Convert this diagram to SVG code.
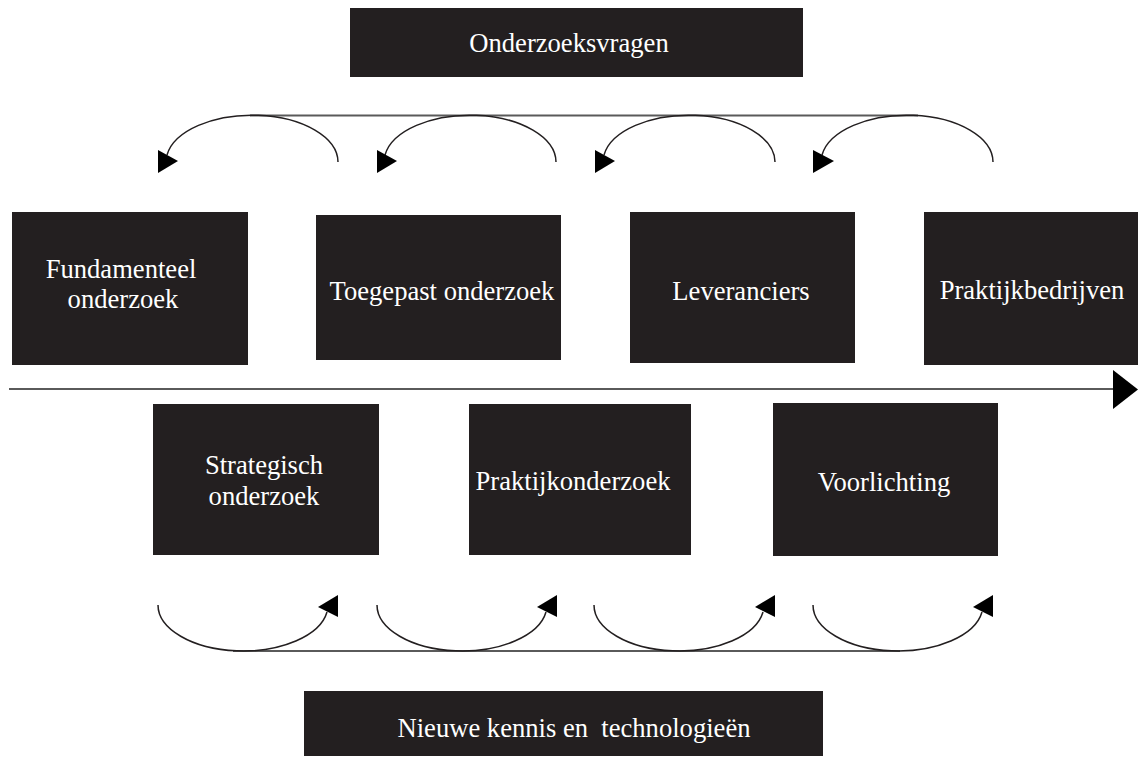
<svg xmlns="http://www.w3.org/2000/svg" width="1138" height="757" viewBox="0 0 1138 757">
  <style>
    .box { fill: #231f20; }
    .lbl { fill: #ffffff; font-family: "Liberation Serif", "Times New Roman", serif; font-size: 26.6px; text-anchor: middle; white-space: pre; }
    .arc { fill: none; stroke: #231f20; stroke-width: 1.5; }
    .rail { fill: none; stroke: #5a5a5a; stroke-width: 1.8; }
    .head { fill: #000000; }
  </style>
  <rect width="1138" height="757" fill="#ffffff"/>

  <!-- connectors -->
  <g id="connectors">
    <!-- main time axis -->
    <line class="rail" x1="9" y1="389" x2="1114" y2="389"/>
    <polygon class="head" points="1113,370 1138,389.5 1113,409"/>

    <!-- feedback loops above the axis -->
    <line class="rail" x1="250" y1="115.5" x2="918" y2="115.5"/>
    <path class="arc" d="M338,162 A86,47 0 0 0 167,155"/>
    <path class="arc" d="M556,162 A86,47 0 0 0 385,155"/>
    <path class="arc" d="M775,162 A86,47 0 0 0 604,155"/>
    <path class="arc" d="M993,162 A86,47 0 0 0 822,155"/>
    <polygon class="head" points="158,150 158,173 178,161"/>
    <polygon class="head" points="377,150 377,173 397,161"/>
    <polygon class="head" points="595,150 595,173 615,161"/>
    <polygon class="head" points="813,150 813,173 834,161"/>

    <!-- forward loops below the axis -->
    <line class="rail" x1="233" y1="651" x2="900" y2="651"/>
    <path class="arc" d="M158,605 A85,46 0 0 0 327,612"/>
    <path class="arc" d="M377,605 A85,46 0 0 0 546,612"/>
    <path class="arc" d="M594,605 A85,46 0 0 0 763,612"/>
    <path class="arc" d="M813,605 A85,46 0 0 0 982,612"/>
    <polygon class="head" points="338,595 338,617 318,607"/>
    <polygon class="head" points="557,595 557,617 537,607"/>
    <polygon class="head" points="775,595 775,617 755,607"/>
    <polygon class="head" points="993,595 993,617 973,607"/>
  </g>

  <!-- nodes -->
  <g id="onderzoeksvragen">
    <rect class="box" x="350" y="8" width="453" height="69"/>
    <text class="lbl" x="569" y="52">Onderzoeksvragen</text>
  </g>

  <g id="fundamenteel">
    <rect class="box" x="12" y="212" width="236" height="153"/>
    <text class="lbl" x="121" y="278">Fundamenteel</text>
    <text class="lbl" x="123" y="308">onderzoek</text>
  </g>

  <g id="toegepast">
    <rect class="box" x="316" y="215" width="245" height="145"/>
    <text class="lbl" x="442" y="300">Toegepast onderzoek</text>
  </g>

  <g id="leveranciers">
    <rect class="box" x="630" y="212" width="225" height="151"/>
    <text class="lbl" x="741" y="300">Leveranciers</text>
  </g>

  <g id="praktijkbedrijven">
    <rect class="box" x="924" y="212" width="214" height="153"/>
    <text class="lbl" x="1032" y="299">Praktijkbedrijven</text>
  </g>

  <g id="strategisch">
    <rect class="box" x="153" y="404" width="226" height="151"/>
    <text class="lbl" x="264" y="474">Strategisch</text>
    <text class="lbl" x="264" y="505">onderzoek</text>
  </g>

  <g id="praktijkonderzoek">
    <rect class="box" x="469" y="404" width="222" height="151"/>
    <text class="lbl" x="573" y="490">Praktijkonderzoek</text>
  </g>

  <g id="voorlichting">
    <rect class="box" x="773" y="403" width="225" height="153"/>
    <text class="lbl" x="884" y="491">Voorlichting</text>
  </g>

  <g id="nieuwe-kennis">
    <rect class="box" x="304" y="691" width="519" height="65"/>
    <text class="lbl" x="574" y="737">Nieuwe kennis en  technologieën</text>
  </g>
</svg>
